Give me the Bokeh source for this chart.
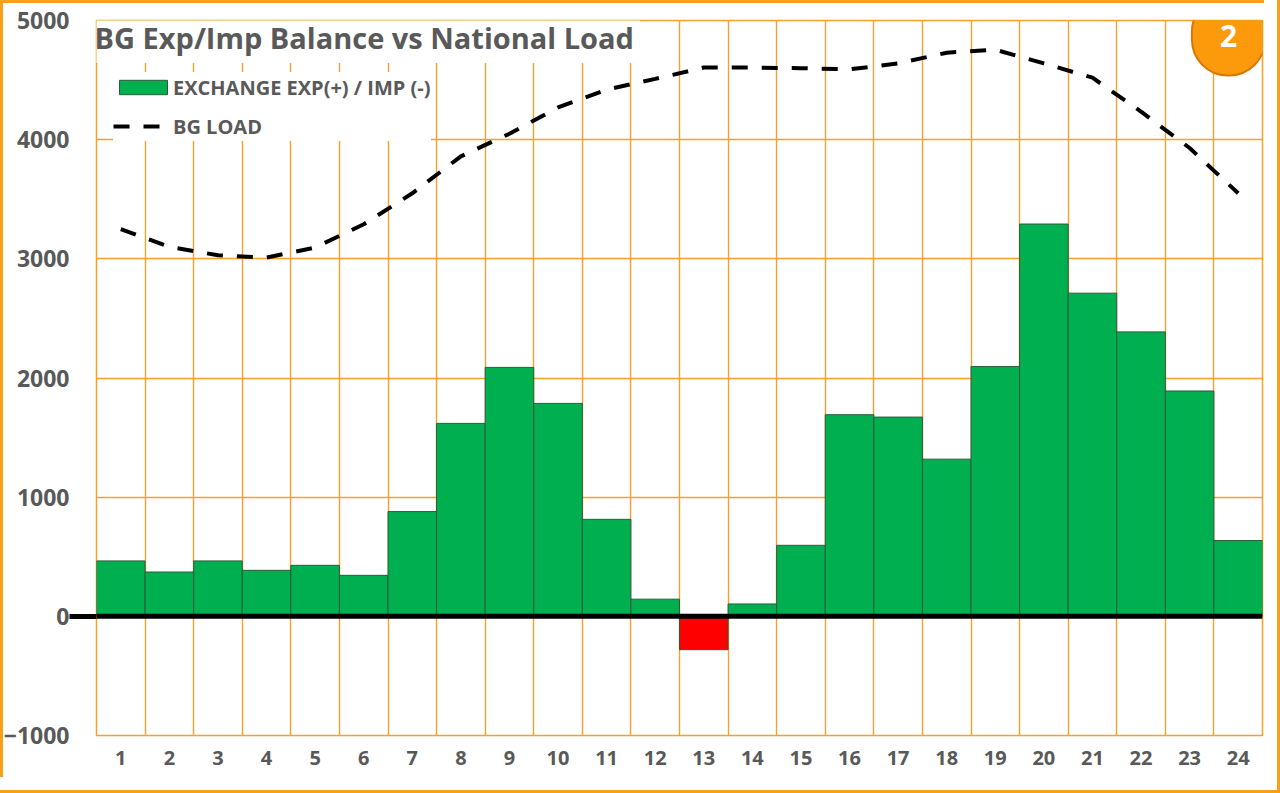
from bokeh.plotting import figure
from bokeh.models import (ColumnDataSource, FixedTicker, Span, Label, Legend,
                          LegendItem, Range1d)
from bokeh.embed import file_html
from bokeh.resources import INLINE

# ---- data ----
hours = list(range(1, 25))
exchange = [465, 372, 465, 386, 428, 344, 879, 1619, 2089, 1787, 814, 144,
            -280, 104, 596, 1692, 1672, 1319, 2096, 3292, 2712, 2387, 1891, 636]
bg_load = [3250, 3100, 3030, 3010, 3095, 3290, 3550, 3860, 4050, 4270, 4420, 4510,
           4605, 4605, 4600, 4590, 4640, 4730, 4755, 4640, 4520, 4235, 3930, 3550]
y_ticks = [-1000, 0, 1000, 2000, 3000, 4000, 5000]
title_text = "BG Exp/Imp Balance vs National Load"
legend_labels = ["EXCHANGE EXP(+) / IMP (-)", "BG LOAD"]
badge_text = "2"

# ---- styles ----
ORANGE = "#F7A12B"
BORDER = "#F7A11A"
GRAY = "#595959"
FONT = "Open Sans"

bar_colors = ["#00B050" if v >= 0 else "#FF0000" for v in exchange]
source = ColumnDataSource(dict(hour=hours, exchange=exchange, color=bar_colors))

p = figure(width=1264, height=777, output_backend="svg", toolbar_location=None,
           x_range=Range1d(0.5, 24.5), y_range=Range1d(-1000, 5000),
           min_border_left=94, min_border_right=2, min_border_top=20,
           min_border_bottom=42)
p.styles = {"background-color": "white",
            "box-shadow": "inset 3px 3px 0 0 " + BORDER,
            "outline": "3px solid " + BORDER, "outline-offset": "13px"}
p.background_fill_color = "white"
p.border_fill_color = None
p.outline_line_color = ORANGE
p.outline_line_width = 1.5

# grids
boundaries = [h + 0.5 for h in hours[:-1]]
p.xgrid.ticker = FixedTicker(ticks=boundaries)
p.ygrid.ticker = FixedTicker(ticks=y_ticks)
for g in (p.xgrid, p.ygrid):
    g.grid_line_color = ORANGE
    g.grid_line_width = 1.4
    g.grid_line_alpha = 1.0

# bars
bars = p.vbar(x="hour", top="exchange", bottom=0, width=1.0, source=source,
              fill_color="color", line_color="#2D5A3C", line_width=1)

# load line
line = p.line(hours, bg_load, line_color="black", line_width=4, line_dash="16 14")

# zero line
p.add_layout(Span(location=0, dimension="width", line_color="black", line_width=5))

# axes
p.xaxis.ticker = FixedTicker(ticks=hours)
p.xaxis.axis_line_color = None
p.xaxis.major_tick_line_color = None
p.xaxis.minor_tick_line_color = None
p.xaxis.major_tick_out = 0
p.xaxis.major_tick_in = 0
p.xaxis.minor_tick_out = 0
p.xaxis.major_label_standoff = 15
p.xaxis.major_label_text_font = FONT
p.xaxis.major_label_text_font_style = "bold"
p.xaxis.major_label_text_font_size = "20px"
p.xaxis.major_label_text_color = GRAY

p.yaxis.ticker = FixedTicker(ticks=y_ticks, minor_ticks=[0])
p.yaxis.axis_line_color = None
p.yaxis.major_tick_line_color = None
p.yaxis.major_tick_out = 0
p.yaxis.major_tick_in = 0
p.yaxis.minor_tick_line_color = "black"
p.yaxis.minor_tick_line_width = 5
p.yaxis.minor_tick_out = 27
p.yaxis.minor_tick_in = 0
p.yaxis.major_label_standoff = 0
p.yaxis.major_label_text_font = FONT
p.yaxis.major_label_text_font_style = "bold"
p.yaxis.major_label_text_font_size = "23px"
p.yaxis.major_label_text_color = GRAY

# title box
p.add_layout(Label(x=-8, y=699, x_units="screen", y_units="screen", text=title_text,
                   text_font=FONT, text_font_size="29px", text_font_style="bold",
                   text_color=GRAY, text_baseline="alphabetic", text_align="left",
                   background_fill_color="white", background_fill_alpha=1.0,
                   border_line_color=None,
                   padding=dict(left=6, right=6, top=8, bottom=6)))

# legend
legend = Legend(items=[LegendItem(label=legend_labels[0], renderers=[bars]),
                       LegendItem(label=legend_labels[1], renderers=[line])],
                location=(17, 594), orientation="vertical",
                background_fill_color="white", background_fill_alpha=1.0,
                border_line_color=None, padding=10, spacing=9, margin=0,
                glyph_width=60, glyph_height=18, label_height=30,
                label_standoff=0, label_text_font=FONT,
                label_text_font_style="bold", label_text_font_size="20px",
                label_text_color=GRAY)
p.add_layout(legend)

# badge
p.add_layout(Label(x=1132, y=700, x_units="screen", y_units="screen", text=badge_text,
                   text_font=FONT, text_font_size="30px", text_font_style="bold",
                   text_color="white", text_align="center", text_baseline="middle",
                   background_fill_color="#FD9A0C", background_fill_alpha=1.0,
                   border_line_color="#D97706", border_line_width=2,
                   border_radius=36,
                   padding=dict(left=28, right=28, top=29, bottom=29)))

open("out.html", "w").write(file_html(p, INLINE))
